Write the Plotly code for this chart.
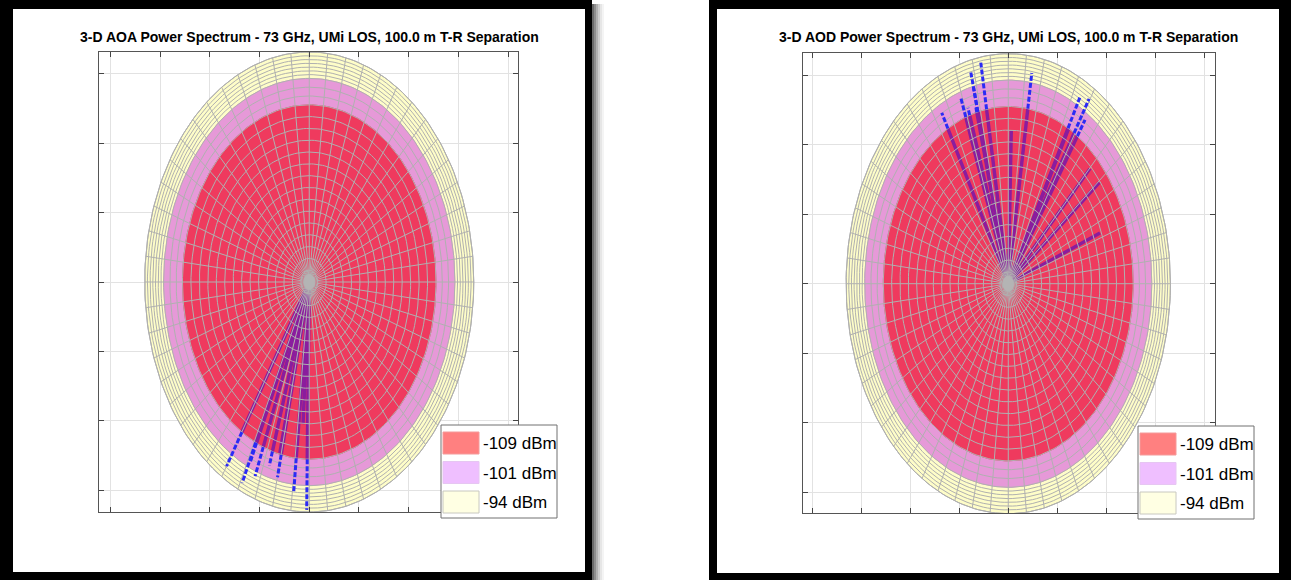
import numpy as np
import plotly.graph_objects as go

# ---- data -------------------------------------------------------------
levels_dbm = [-109, -101, -94]            # power thresholds shown in the legend
level_radius = [2.55, 2.93, 3.31]         # projected sphere radius for each threshold

# multipath components (azimuth in degrees, projected length)
aoa_azimuth = [237.9, 245.0, 245.4, 248.7, 253.1, 257.2, 256.5, 264.1, 269.1, 266.5]
aoa_length = [3.13, 3.19, 2.86, 3.00, 2.76, 2.88, 2.53, 3.03, 3.28, 2.05]

aod_azimuth = [100.0, 104.1, 104.1, 104.6, 109.9, 108.0, 118.9, 81.0,
               61.4, 58.2, 56.4, 44.8, 38.1, 21.3, 88.4, 61.1]
aod_length = [3.23, 3.16, 2.92, 2.62, 2.85, 2.66, 2.81, 3.07,
              3.05, 3.13, 2.83, 2.35, 2.36, 2.01, 2.21, 2.55]

x_ticks = [-4, -3, -2, -1, 0, 1, 2, 3, 4]
y_ticks = [-3, -2, -1, 0, 1, 2, 3]

titles = ["3-D AOA Power Spectrum - 73 GHz, UMi LOS, 100.0 m T-R Separation",
          "3-D AOD Power Spectrum - 73 GHz, UMi LOS, 100.0 m T-R Separation"]

# ---- styles -----------------------------------------------------------
surface_fill = ["#EF3A5E", "#E699D8", "#FEFDC8"]
legend_fill = ["#FF8080", "#EFBFFF", "#FFFFE3"]
legend_edge = ["#F49A9A", "#E6C6F2", "#C8C8C0"]
mesh_color = "#B0B0B0"
ray_inner = "#8A1D9E"
ray_outer = "#2B2BF5"
N_SPOKES = 56
POLE_RADIUS = 0.11

W, H = 1291, 580


def fx(px):
    return px / W


def fy(py):
    return 1 - py / H


theta = np.linspace(0, 2 * np.pi, 241)


def disk(r):
    return list(r * np.cos(theta)), list(r * np.sin(theta))


def mesh_lines(r_levels):
    r_red, r_pink, r_yel = r_levels
    rings = [r_red * k / 15 for k in range(1, 16)]
    rings += [r_red + (r_pink - r_red) * k / 3 for k in range(1, 4)]
    rings += [r_pink + (r_yel - r_pink) * k / 7 for k in range(1, 8)]
    xs, ys = [], []
    for r in rings:
        cx, cy = disk(r)
        xs += cx + [None]
        ys += cy + [None]
    for k in range(N_SPOKES):
        a = 2 * np.pi * k / N_SPOKES
        xs += [0, r_yel * np.cos(a), None]
        ys += [0, r_yel * np.sin(a), None]
    return xs, ys


def ray_segments(az, length, r_inner):
    ix, iy, ox, oy = [], [], [], []
    for a, L in zip(az, length):
        c, s = np.cos(np.radians(a)), np.sin(np.radians(a))
        li = min(L, r_inner)
        ix += [0, li * c, None]
        iy += [0, li * s, None]
        if L > r_inner:
            ox += [r_inner * c, L * c, None]
            oy += [r_inner * s, L * s, None]
    return ix, iy, ox, oy


fig = go.Figure()

panels = [
    dict(ax="", az=aoa_azimuth, ln=aoa_length),
    dict(ax="2", az=aod_azimuth, ln=aod_length),
]

for p in panels:
    xa, ya = "x" + p["ax"], "y" + p["ax"]
    # nested threshold spheres, outermost first
    for i in [2, 1, 0]:
        cx, cy = disk(level_radius[i])
        fig.add_trace(go.Scatter(
            x=cx, y=cy, xaxis=xa, yaxis=ya, mode="lines", fill="toself",
            fillcolor=surface_fill[i],
            line=dict(color="#A8A8A8" if i == 2 else surface_fill[i], width=1),
            hoverinfo="skip", showlegend=False))
    ix, iy, ox, oy = ray_segments(p["az"], p["ln"], level_radius[0])
    fig.add_trace(go.Scatter(
        x=ix, y=iy, xaxis=xa, yaxis=ya, mode="lines",
        line=dict(color=ray_inner, width=3.4),
        hoverinfo="skip", showlegend=False))
    mx, my = mesh_lines(level_radius)
    fig.add_trace(go.Scatter(
        x=mx, y=my, xaxis=xa, yaxis=ya, mode="lines",
        line=dict(color=mesh_color, width=1),
        hoverinfo="skip", showlegend=False))
    # converging meridians at the pole
    px_, py_ = disk(POLE_RADIUS)
    fig.add_trace(go.Scatter(
        x=px_, y=py_, xaxis=xa, yaxis=ya, mode="lines", fill="toself",
        fillcolor="#B4B4B4", line=dict(color="#B4B4B4", width=1),
        hoverinfo="skip", showlegend=False))
    fig.add_trace(go.Scatter(
        x=ox, y=oy, xaxis=xa, yaxis=ya, mode="lines",
        line=dict(color=ray_outer, width=3, dash="5px,2px"),
        hoverinfo="skip", showlegend=False))

axis_common = dict(
    showticklabels=False, ticks="inside", ticklen=5, tickcolor="#444",
    showline=True, linecolor="#555", linewidth=1, mirror="ticks",
    showgrid=True, gridcolor="#E2E2E2", gridwidth=1, zeroline=False,
    fixedrange=True,
)

fig.update_layout(
    width=W, height=H, autosize=False,
    margin=dict(l=0, r=0, t=0, b=0),
    paper_bgcolor="white", plot_bgcolor="white",
    showlegend=False,
    xaxis=dict(domain=[fx(99), fx(518)], range=[-4.23, 4.20],
               tickvals=x_ticks, anchor="y", **axis_common),
    yaxis=dict(domain=[fy(512), fy(52)], range=[-3.31, 3.31],
               tickvals=y_ticks, anchor="x", **axis_common),
    xaxis2=dict(domain=[fx(803), fx(1215)], range=[-4.19, 4.22],
                tickvals=x_ticks, anchor="y2", **axis_common),
    yaxis2=dict(domain=[fy(513), fy(53)], range=[-3.30, 3.32],
                tickvals=y_ticks, anchor="x2", **axis_common),
)

shapes = []
annotations = []


def rect(x0, y0, x1, y1, fill, line_color=None, line_width=0, layer="below"):
    shapes.append(dict(
        type="rect", xref="paper", yref="paper",
        x0=fx(x0), x1=fx(x1), y0=fy(y1), y1=fy(y0),
        fillcolor=fill, layer=layer,
        line=dict(color=line_color or fill, width=line_width)))


# panel frames with a soft drop shadow on the left panel
for i, c in enumerate(["#6A6A6A", "#8E8E8E", "#B0B0B0", "#CDCDCD", "#E6E6E6", "#F4F4F4"]):
    rect(592 + 2 * i, 4, 594 + 2 * i, 580, c)
rect(0, 0, 592, 580, "black")
rect(13, 9, 585, 572, "white")
rect(709, 0, 1291, 580, "black")
rect(717, 9, 1279, 573, "white")

title_font = dict(family="Liberation Sans, Arial", size=14, color="black", weight="bold")
for t, cxp in zip(titles, [309, 1008]):
    annotations.append(dict(
        text=t, xref="paper", yref="paper", x=fx(cxp), y=fy(37),
        xanchor="center", yanchor="middle", showarrow=False, font=title_font))

legend_font = dict(family="Liberation Sans, Arial", size=17, color="black")
for lx, ly in [(441, 425), (1138, 426)]:
    rect(lx, ly, lx + 116, ly + 93, "white", "#707070", 1, layer="above")
    for i in range(3):
        top = ly + 7 + 29.5 * i
        rect(lx + 2, top, lx + 38, top + 22, legend_fill[i], legend_edge[i], 1, layer="above")
        annotations.append(dict(
            text=f"{levels_dbm[i]} dBm", xref="paper", yref="paper",
            x=fx(lx + 40), y=fy(top + 11.5), xanchor="left", yanchor="middle",
            showarrow=False, font=legend_font))

fig.update_layout(shapes=shapes, annotations=annotations)

fig.write_html("out.html")
